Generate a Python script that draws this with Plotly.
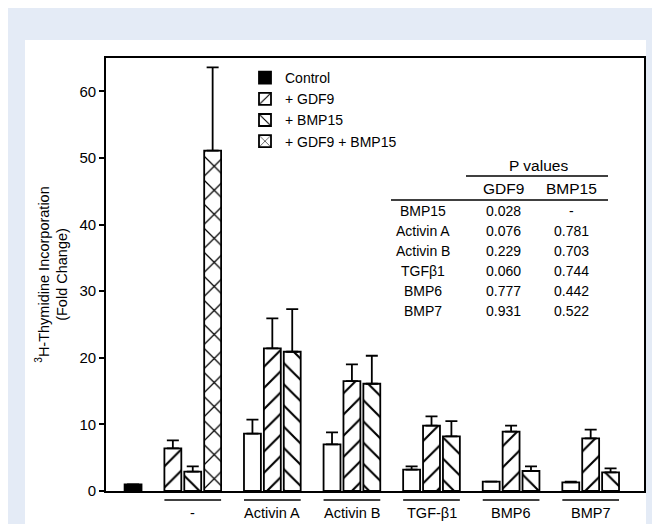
import plotly.graph_objects as go

# ---------------- data ----------------
groups = ["-", "Activin A", "Activin B", "TGF-β1", "BMP6", "BMP7"]
control_value = [1.0]
control_err = [0.0]
alone_values = [8.6, 7.0, 3.2, 1.4, 1.3]          # Activin A .. BMP7 alone
alone_err = [2.1, 1.8, 0.5, 0.0, 0.1]
gdf9_values = [6.4, 21.4, 16.5, 9.8, 8.9, 7.9]    # all groups
gdf9_err = [1.2, 4.5, 2.5, 1.4, 0.9, 1.3]
bmp15_values = [2.9, 20.9, 16.1, 8.2, 3.0, 2.8]
bmp15_err = [0.8, 6.4, 4.2, 2.3, 0.7, 0.6]
combo_values = [51.1]                              # "-" group only
combo_err = [12.5]
y_ticks = [0, 10, 20, 30, 40, 50, 60]

p_rows = ["BMP15", "Activin A", "Activin B", "TGFβ1", "BMP6", "BMP7"]
p_gdf9 = ["0.028", "0.076", "0.229", "0.060", "0.777", "0.931"]
p_bmp15 = ["-", "0.781", "0.703", "0.744", "0.442", "0.522"]

# ---------------- layout helpers ----------------
W, H = 660, 524
L, R, T, B = 98, 24, 50, 41
PW, PH = W - L - R, H - T - B
FONT = "Arial, Liberation Sans, Helvetica, sans-serif"


def px_x(p):
    return (p - L) / PW


def px_y(p):
    return (H - B - p) / PH


def base(g):
    return 2 + 4 * g


BW = 0.85
control_x = [0]
alone_x = [base(g) for g in range(1, len(groups))]
gdf9_x = [base(g) + (0 if g == 0 else 1) for g in range(len(groups))]
bmp15_x = [base(g) + (1 if g == 0 else 2) for g in range(len(groups))]
combo_x = [base(0) + 2]


def err(vals):
    return dict(type="data", symmetric=False, array=vals, arrayminus=[0] * len(vals),
                color="black", thickness=1.8, width=6)


line = dict(color="black", width=1.8)


def pat(shape, size, sol):
    return dict(shape=shape, fgcolor="black", bgcolor="white", fgopacity=1,
                size=size, solidity=sol)


fig = go.Figure()
fig.add_trace(go.Bar(x=control_x, y=control_value, width=BW, name="Control",
                     marker=dict(color="black", line=line), error_y=err(control_err)))
fig.add_trace(go.Bar(x=gdf9_x, y=gdf9_values, width=BW, name="+ GDF9",
                     marker=dict(color="white", line=line, pattern=pat("/", 15, 0.14)),
                     error_y=err(gdf9_err)))
fig.add_trace(go.Bar(x=bmp15_x, y=bmp15_values, width=BW, name="+ BMP15",
                     marker=dict(color="white", line=line, pattern=pat("\\", 15, 0.14)),
                     error_y=err(bmp15_err)))
fig.add_trace(go.Bar(x=combo_x, y=combo_values, width=BW, name="+ GDF9 + BMP15",
                     marker=dict(color="white", line=line, pattern=pat("x", 17, 0.14)),
                     error_y=err(combo_err)))
fig.add_trace(go.Bar(x=alone_x, y=alone_values, width=BW, name="alone", showlegend=False,
                     marker=dict(color="white", line=line), error_y=err(alone_err)))

shapes = [dict(type="rect", xref="paper", yref="paper", layer="below",
               x0=px_x(17), x1=px_x(638), y0=px_y(32), y1=px_y(H + 5),
               fillcolor="white", line=dict(width=0))]
annotations = []


def label(xpx, ypx, text, size, xref="paper", xval=None):
    return dict(x=px_x(xpx) if xval is None else xval, xref=xref, y=px_y(ypx), yref="paper",
                text=text, showarrow=False, xanchor="center", yanchor="middle",
                font=dict(size=size, family=FONT, color="black"))


# group labels with overlines
for g, name in enumerate(groups):
    x0 = base(g) - BW / 2
    x1 = base(g) + 2 + BW / 2
    shapes.append(dict(type="line", xref="x", yref="paper", x0=x0, x1=x1,
                       y0=px_y(492), y1=px_y(492), line=dict(color="black", width=1.3)))
    annotations.append(label(0, 505, name, 14.5, xref="x", xval=base(g) + 1))

# P value table
annotations.append(label(530, 157, "P values", 15.5))
shapes.append(dict(type="line", xref="paper", yref="paper", x0=px_x(458), x1=px_x(600),
                   y0=px_y(168), y1=px_y(168), line=dict(color="black", width=1.3)))
annotations.append(label(495, 181, "GDF9", 15.5))
annotations.append(label(563, 181, "BMP15", 15.5))
shapes.append(dict(type="line", xref="paper", yref="paper", x0=px_x(383), x1=px_x(600),
                   y0=px_y(192), y1=px_y(192), line=dict(color="black", width=1.3)))
for i, (r, a, b) in enumerate(zip(p_rows, p_gdf9, p_bmp15)):
    yy = 203 + 20 * i
    annotations.append(label(415, yy, r, 14))
    annotations.append(label(495, yy, a, 14))
    annotations.append(label(563, yy, b, 14))

fig.update_layout(
    width=W, height=H,
    margin=dict(l=L, r=R, t=T, b=B),
    paper_bgcolor="#E4EBF6", plot_bgcolor="white",
    barmode="overlay",
    font=dict(family=FONT, color="black"),
    showlegend=True,
    legend=dict(x=px_x(237), y=px_y(54), xanchor="left", yanchor="top",
                bgcolor="rgba(0,0,0,0)", font=dict(size=14, family=FONT, color="black"),
                tracegroupgap=0, itemwidth=30, traceorder="normal"),
    shapes=shapes, annotations=annotations,
    xaxis=dict(range=[-1.36, 25.68], showticklabels=False, ticks="", showgrid=False,
               zeroline=False, showline=True, linecolor="black", linewidth=1.6, mirror=True),
    yaxis=dict(range=[0, 65], tickvals=y_ticks, ticks="outside", ticklen=5, tickwidth=1.5,
               tickcolor="black", showgrid=False, zeroline=False, showline=True,
               linecolor="black", linewidth=1.6, mirror=True,
               tickfont=dict(size=15, family=FONT, color="black"),
               title=dict(text="<sup>3</sup>H-Thymidine Incorporation<br>(Fold Change)",
                          font=dict(size=14.5, family=FONT, color="black"), standoff=8)),
)

fig.write_html("out.html")
